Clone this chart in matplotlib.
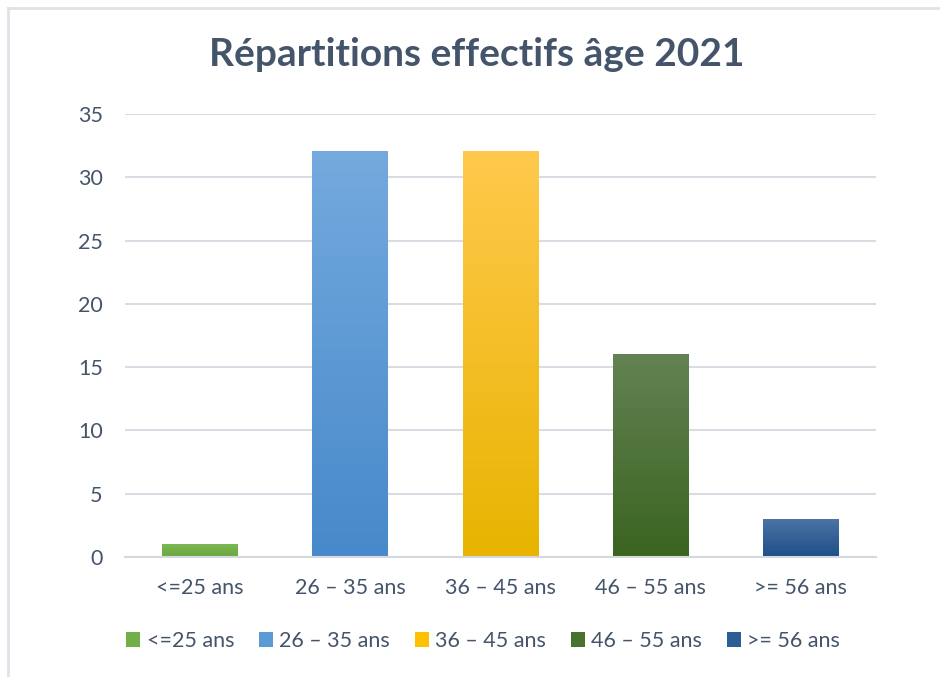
import numpy as np
import matplotlib.pyplot as plt
from matplotlib.colors import LinearSegmentedColormap
from matplotlib.patches import Patch
from matplotlib.lines import Line2D

plt.rcParams['font.family'] = ['Lato', 'DejaVu Sans']

# Données
categories = ["<=25 ans", "26 – 35 ans", "36 – 45 ans", "46 – 55 ans", ">= 56 ans"]
effectifs = [1, 32, 32, 16, 3]
# dégradé (haut, bas) par barre
colors_top = ["#7cb852", "#74aade", "#ffc94d", "#648253", "#4b73a5"]
colors_bottom = ["#6aa63f", "#4789ca", "#e8b400", "#3a6420", "#1d4f88"]
colors_legend = ["#72af49", "#5b9bd5", "#ffc000", "#4a722f", "#2d5d95"]
yticks = [0, 5, 10, 15, 20, 25, 30, 35]

TEXT = "#44546a"
GRID = "#d9dde3"

fig = plt.figure(figsize=(9.4, 6.77), dpi=100)
ax = fig.add_axes([125 / 940, 1 - 557 / 677, (876 - 125) / 940, (557 - 114) / 677])

width = 0.505
x = np.arange(len(categories))
for i, v in enumerate(effectifs):
    cmap = LinearSegmentedColormap.from_list(f"g{i}", [colors_bottom[i], colors_top[i]])
    grad = np.linspace(0, 1, 256).reshape(-1, 1)
    ax.imshow(grad, cmap=cmap, origin="lower", aspect="auto",
              extent=(x[i] - width / 2, x[i] + width / 2, 0, v), zorder=3)

ax.set_xlim(-0.5, len(categories) - 0.5)
ax.set_ylim(0, 35)
ax.set_yticks(yticks)
ax.set_xticks(x)
ax.set_xticklabels(categories)
ax.yaxis.grid(True, color=GRID, linewidth=1.5)
ax.set_axisbelow(True)
for s in ["top", "right", "left"]:
    ax.spines[s].set_visible(False)
ax.spines["bottom"].set_color("#d5d9df")
ax.spines["bottom"].set_linewidth(1.5)
ax.spines["bottom"].set_zorder(4)
ax.tick_params(axis="both", length=0, labelsize=15.5, labelcolor=TEXT)
ax.tick_params(axis="x", pad=15)
ax.tick_params(axis="y", pad=16)

fig.text(0.507, 1 - 55 / 677, "Répartitions effectifs âge 2021", ha="center", va="center",
         fontsize=28, fontweight="bold", color=TEXT)

handles = [Patch(facecolor=c, edgecolor="none") for c in colors_legend]
fig.legend(handles, categories, loc="center", bbox_to_anchor=(0.514, 1 - 641 / 677), ncol=5,
           frameon=False, fontsize=15.5, labelcolor=TEXT, handlelength=0.65, handleheight=0.65,
           handletextpad=0.3, columnspacing=1.15)

# bordure du graphique
fig.add_artist(Line2D([8 / 940, 8 / 940], [0, 1 - 8 / 677], color="#dfe3e8", linewidth=2))
fig.add_artist(Line2D([8 / 940, 1], [1 - 8 / 677, 1 - 8 / 677], color="#dfe3e8", linewidth=2))

fig.savefig("out.png", dpi=100)
